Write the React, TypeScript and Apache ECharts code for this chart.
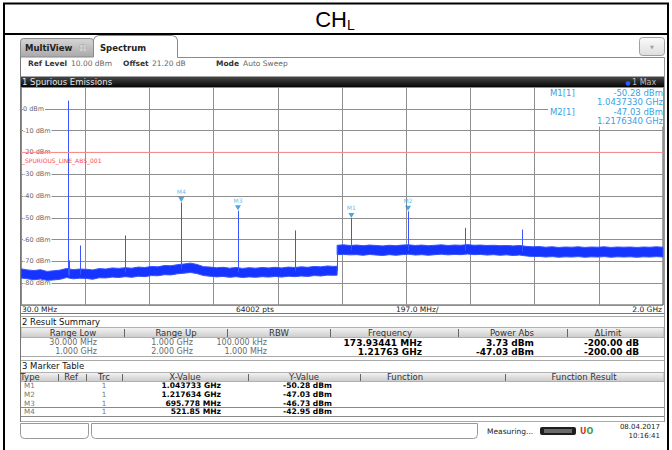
import React, { useEffect, useRef } from "react";
import * as echarts from "echarts";

// ---------- data ----------
const FREQ_MIN = 30; // MHz
const FREQ_MAX = 2000; // MHz
const REF_LEVEL = 10; // dBm
const BOTTOM_LEVEL = -90; // dBm
const LIMIT_LEVEL = -20; // dBm
const X_DIVISIONS = 10;

// noise floor band, 30 MHz .. 1 GHz (sample every 20 MHz, last one at 1000 MHz)
const lowBandStart = 30;
const lowBandStep = 20;
const lowBandEnd = 1000;
const lowBandHi = [
  -73.4, -73.9, -74.2, -73.8, -74.6, -74.3, -74.0, -73.2, -73.8, -73.5,
  -73.6, -73.9, -73.3, -73.5, -73.0, -73.2, -72.9, -73.1, -72.6, -72.8,
  -72.3, -72.5, -71.9, -72.0, -71.5, -71.2, -70.8, -71.4, -72.4, -72.6,
  -72.9, -72.7, -73.1, -72.8, -73.2, -72.9, -73.1, -72.8, -73.0, -72.7,
  -73.0, -72.6, -72.8, -72.5, -72.7, -72.3, -72.5, -72.1, -72.3, -72.2,
];
const lowBandLo = [
  -77.6, -78.0, -78.4, -78.1, -78.7, -78.5, -78.2, -77.4, -78.0, -77.7,
  -77.8, -78.2, -77.5, -77.6, -77.2, -77.4, -77.0, -77.3, -76.8, -77.0,
  -76.5, -76.6, -76.1, -76.2, -75.7, -75.4, -75.1, -75.6, -76.5, -76.8,
  -77.1, -76.9, -77.3, -77.0, -77.4, -77.1, -77.3, -77.0, -77.2, -76.9,
  -77.2, -76.8, -77.0, -76.7, -76.9, -76.5, -76.7, -76.3, -76.4, -76.3,
];
// noise floor band, 1 GHz .. 2 GHz (every 20 MHz)
const highBandStart = 1000;
const highBandStep = 20;
const highBandEnd = 2000;
const highBandHi = [
  -62.6, -62.4, -62.7, -62.5, -62.8, -62.5, -62.7, -62.9, -62.6, -62.8,
  -62.5, -62.4, -62.7, -62.5, -62.8, -62.6, -62.4, -62.7, -62.5, -62.6,
  -62.3, -62.6, -62.5, -62.7, -62.6, -62.8, -62.7, -62.9, -62.7, -63.1,
  -63.3, -63.2, -63.5, -63.3, -63.6, -63.4, -63.5, -63.3, -63.6, -63.4,
  -63.5, -63.3, -63.6, -63.4, -63.5, -63.4, -63.6, -63.4, -63.5, -63.3, -63.5,
];
const highBandLo = [
  -66.9, -66.8, -67.0, -66.9, -67.2, -66.8, -67.1, -67.3, -66.9, -67.2,
  -66.9, -66.7, -67.1, -66.9, -67.2, -66.9, -66.7, -67.0, -66.8, -66.9,
  -66.6, -66.9, -66.8, -67.1, -66.9, -67.2, -67.0, -67.3, -67.1, -67.5,
  -67.8, -67.7, -68.0, -67.8, -68.1, -67.9, -68.0, -67.8, -68.1, -67.9,
  -68.0, -67.8, -68.1, -67.9, -68.0, -67.9, -68.1, -67.9, -68.0, -67.8, -68.0,
];

// spurious spikes on the trace (MHz, peak dBm, foot dBm)
const spikeFreqs = [173.93, 177, 211, 348, 521.85, 695.778, 871, 1000, 1043.733, 1217.634, 1392, 1567];
const spikePeaks = [3.73, -69.5, -62.7, -58.1, -42.95, -46.73, -55.8, -62.6, -50.28, -47.03, -54.6, -55.4];
const spikeFeet = [-76.5, -76.5, -76.0, -75.0, -73.5, -75.0, -74.5, -74.5, -65.0, -65.0, -65.0, -65.5];

// markers
const markerNames = ["M1", "M2", "M3", "M4"];
const markerFreqs = [1043.733, 1217.634, 695.778, 521.85];
const markerLevels = [-50.28, -47.03, -46.73, -42.95];
const markerXText = ["1.043733 GHz", "1.217634 GHz", "695.778 MHz", "521.85 MHz"];
const markerYText = ["-50.28 dBm", "-47.03 dBm", "-46.73 dBm", "-42.95 dBm"];
const markerTrace = ["1", "1", "1", "1"];

// result summary
const summaryHeaders = ["Range Low", "Range Up", "RBW", "Frequency", "Power Abs", "\u0394Limit"];
const summaryRangeLow = ["30.000 MHz", "1.000 GHz"];
const summaryRangeUp = ["1.000 GHz", "2.000 GHz"];
const summaryRbw = ["100.000 kHz", "1.000 MHz"];
const summaryFreq = ["173.93441 MHz", "1.21763 GHz"];
const summaryPower = ["3.73 dBm", "-47.03 dBm"];
const summaryLimit = ["-200.00 dB", "-200.00 dB"];

const markerHeaders = ["Type", "Ref", "Trc", "X-Value", "Y-Value", "Function", "Function Result"];

// ---------- styling helpers ----------
const UI = '"DejaVu Sans", Verdana, sans-serif';
const MARK_BLUE = "#3a9fe4";
const TRACE_BLUE = "#1634ff";

function T(x: number, y: number, text: string, o: any = {}) {
  return {
    type: "text",
    x,
    y,
    z: o.z ?? 20,
    silent: true,
    style: {
      text,
      fill: o.color ?? "#222",
      fontSize: o.size ?? 8,
      fontFamily: o.family ?? UI,
      fontWeight: o.weight ?? "normal",
      align: o.align ?? "left",
      verticalAlign: o.valign ?? "middle",
      lineHeight: o.lh,
    },
  };
}
function L(x1: number, y1: number, x2: number, y2: number, color = "#999", w = 1, z = 20) {
  return { type: "line", z, silent: true, shape: { x1, y1, x2, y2 }, style: { stroke: color, lineWidth: w } };
}
function R(x: number, y: number, w: number, h: number, fill: any, stroke: string | null = null, r: any = 0, z = 15) {
  return {
    type: "rect",
    z,
    silent: true,
    shape: { x, y, width: w, height: h, r },
    style: { fill, stroke: stroke ?? undefined, lineWidth: stroke ? 1 : 0 },
  };
}
function grad(a: string, b: string) {
  return new echarts.graphic.LinearGradient(0, 0, 0, 1, [
    { offset: 0, color: a },
    { offset: 1, color: b },
  ]);
}

function buildGraphic() {
  const g: any[] = [];
  // outer frame
  g.push(L(3, 3.5, 669, 3.5, "#000", 2));
  g.push(L(3, 34, 669, 34, "#000", 2));
  g.push(L(4, 3, 4, 450, "#000", 2));
  g.push(L(668, 3, 668, 450, "#000", 2));
  // title CH_L
  g.push(T(347, 19, "CH", { size: 22, family: '"Liberation Sans", Arial, sans-serif', align: "right", color: "#000" }));
  g.push(T(347, 25, "L", { size: 14, family: '"Liberation Sans", Arial, sans-serif', color: "#000" }));

  // tabs
  g.push(R(20.5, 38.5, 73, 18.5, grad("#d6d6d6", "#a9a9a9"), "#8a8a8a", [3, 3, 0, 0]));
  g.push(T(25, 48, "MultiView", { weight: "bold", size: 8.5, color: "#222" }));
  g.push(R(79.5, 44.5, 7, 7, "#d0d0d0", "#b8b8b8", 1, 16));
  g.push(L(83, 44.5, 83, 51.5, "#b8b8b8", 1, 17));
  g.push(L(79.5, 48, 86.5, 48, "#b8b8b8", 1, 17));
  g.push(R(93.5, 35.5, 84, 22, "#fff", null, [5, 5, 0, 0], 15));
  g.push({
    type: "polyline",
    z: 16,
    silent: true,
    shape: {
      points: [
        [93.5, 57],
        [93.5, 40],
        [95, 37],
        [98.5, 35.5],
        [172.5, 35.5],
        [176, 37],
        [177.5, 40],
        [177.5, 57.5],
        [664.5, 57.5],
      ],
    },
    style: { stroke: "#8a8a8a", lineWidth: 1, fill: null },
  });
  g.push(T(100, 47.5, "Spectrum", { weight: "bold", size: 8.5, color: "#222" }));
  // dropdown button
  g.push(R(639.5, 37.5, 25, 18, grad("#fbfbfb", "#dedede"), "#a0a0a0", 3));
  g.push(T(652, 46.5, "\u25BC", { size: 5, color: "#a0a0a0", align: "center" }));

  // ref level line
  g.push(T(28, 63, "Ref Level", { weight: "bold", size: 7.5, color: "#333" }));
  g.push(T(71, 63, "10.00 dBm", { size: 7.5, color: "#666" }));
  g.push(T(123, 63, "Offset", { weight: "bold", size: 7.5, color: "#333" }));
  g.push(T(152, 63, "21.20 dB", { size: 7.5, color: "#666" }));
  g.push(T(216, 63, "Mode", { weight: "bold", size: 7.5, color: "#333" }));
  g.push(T(243, 63, "Auto Sweep", { size: 7.5, color: "#666" }));

  // panel sides
  g.push(L(20.5, 57, 20.5, 422, "#777", 1));
  g.push(L(664.5, 57, 664.5, 422, "#999", 1));

  // window title bar
  g.push(R(20, 76.5, 645, 10.5, grad("#4a4a4a", "#050505"), null, 0));
  g.push(T(22, 82, "1 Spurious Emissions", { size: 8.5, color: "#e6e6e6" }));
  g.push(T(628, 82, "\u25CF", { size: 6, color: "#2e5bff", align: "center" }));
  g.push(T(632, 82, "1 Max", { size: 8, color: "#bdbdbd" }));

  // marker info box inside the diagram
  g.push(R(548, 88, 115, 38.5, "#fff", null, 0, 30));
  g.push(T(550, 93, "M1[1]", { size: 8.5, color: MARK_BLUE, z: 31, lh: 9 }));
  g.push(T(663, 93, "-50.28 dBm", { size: 8.5, color: MARK_BLUE, align: "right", z: 31, lh: 9 }));
  g.push(T(663, 102, "1.0437330 GHz", { size: 8.5, color: MARK_BLUE, align: "right", z: 31, lh: 9 }));
  g.push(T(550, 112, "M2[1]", { size: 8.5, color: MARK_BLUE, z: 31, lh: 9 }));
  g.push(T(663, 112, "-47.03 dBm", { size: 8.5, color: MARK_BLUE, align: "right", z: 31, lh: 9 }));
  g.push(T(663, 121, "1.2176340 GHz", { size: 8.5, color: MARK_BLUE, align: "right", z: 31, lh: 9 }));

  // limit line name
  g.push(T(22, 160, "_SPURIOUS_LINE_ABS_001", { size: 6, color: "#ff4a4a", z: 31, lh: 6 }));

  // footer of the diagram
  g.push(T(22, 309, "30.0 MHz", { size: 7.5, color: "#222" }));
  g.push(T(236, 309, "64002 pts", { size: 7.5, color: "#222" }));
  g.push(T(396, 309, "197.0 MHz/", { size: 7.5, color: "#222" }));
  g.push(T(662, 309, "2.0 GHz", { size: 7.5, color: "#222", align: "right" }));
  g.push(L(20.5, 313.5, 664.5, 313.5, "#777", 1));

  // result summary
  g.push(R(20.5, 316.5, 644, 40, "#fff", "#aaa", 0, 12));
  g.push(T(22, 322, "2 Result Summary", { size: 8.5, color: "#111" }));
  g.push(R(21, 327.5, 643, 10, grad("#f4f4f4", "#cbcbcb"), "#b0b0b0", 0, 14));
  [124, 227, 330, 458, 567].forEach((x) => g.push(L(x + 0.5, 329, x + 0.5, 337, "#666", 1)));
  const sumCenters = [73, 176, 279, 390, 512, 608];
  summaryHeaders.forEach((h, i) => g.push(T(sumCenters[i], 332.5, h, { size: 8.5, color: "#333", align: "center" })));
  const sumRows = [342.5, 351.5];
  sumRows.forEach((y, r) => {
    g.push(T(97, y, summaryRangeLow[r], { size: 8, color: "#6a6a6a", align: "right", lh: 9 }));
    g.push(T(193, y, summaryRangeUp[r], { size: 8, color: "#6a6a6a", align: "right", lh: 9 }));
    g.push(T(267, y, summaryRbw[r], { size: 8, color: "#6a6a6a", align: "right", lh: 9 }));
    g.push(T(422, y, summaryFreq[r], { size: 9, weight: "bold", color: "#000", align: "right", lh: 9 }));
    g.push(T(534, y, summaryPower[r], { size: 9, weight: "bold", color: "#000", align: "right", lh: 9 }));
    g.push(T(639, y, summaryLimit[r], { size: 9, weight: "bold", color: "#000", align: "right", lh: 9 }));
  });

  // marker table
  g.push(R(20.5, 360.5, 644, 61, "#fff", "#aaa", 0, 12));
  g.push(T(22, 366, "3 Marker Table", { size: 8.5, color: "#111" }));
  g.push(R(21, 372.5, 643, 9, grad("#f4f4f4", "#cbcbcb"), "#b0b0b0", 0, 14));
  [58, 86, 122, 248, 360, 505].forEach((x) => g.push(L(x + 0.5, 374, x + 0.5, 381, "#666", 1)));
  const mkCenters = [30, 71, 104, 185, 304, 405, 584];
  markerHeaders.forEach((h, i) => g.push(T(mkCenters[i], 377, h, { size: 8.5, color: "#333", align: "center", lh: 9 })));
  const mkRows = [385.8, 394.4, 403, 411.8];
  mkRows.forEach((y, r) => {
    g.push(T(24, y, markerNames[r], { size: 7.2, color: "#777", lh: 8 }));
    g.push(T(104, y, markerTrace[r], { size: 7.2, color: "#777", align: "center", lh: 8 }));
    g.push(T(221, y, markerXText[r], { size: 7.6, weight: "bold", color: "#000", align: "right", lh: 8 }));
    g.push(T(332, y, markerYText[r], { size: 7.6, weight: "bold", color: "#000", align: "right", lh: 8 }));
  });
  g.push(L(21, 407.5, 664, 407.5, "#888", 1));
  g.push(L(21, 416.5, 664, 416.5, "#888", 1));

  // status bar
  g.push(R(20.5, 423.5, 68, 15, "#fff", "#999", [0, 0, 4, 4], 12));
  g.push(R(91.5, 423.5, 386, 15, "#fff", "#999", [0, 0, 4, 4], 12));
  g.push(T(487, 431, "Measuring...", { size: 7.5, color: "#222" }));
  g.push(R(540, 427, 36, 8, "#1e1e1e", null, 2, 14));
  g.push(R(544, 429, 28, 4, "#6a6a6a", null, 0, 15));
  g.push({
    type: "text",
    x: 580,
    y: 431,
    z: 20,
    silent: true,
    style: {
      text: "{r|U}{g|O}",
      verticalAlign: "middle",
      rich: {
        r: { fill: "#d23b2b", fontSize: 8, fontWeight: "bold", fontFamily: UI },
        g: { fill: "#3c9a3c", fontSize: 8, fontWeight: "bold", fontFamily: UI },
      },
    },
  });
  g.push(T(660, 427, "08.04.2017", { size: 7, color: "#222", align: "right", lh: 8 }));
  g.push(T(660, 435.5, "10:16:41", { size: 7, color: "#222", align: "right", lh: 8 }));
  return g;
}

function bandPoints(start: number, step: number, end: number, n: number) {
  const f: number[] = [];
  for (let i = 0; i < n; i++) f.push(Math.min(start + step * i, end));
  return f;
}

export default function App() {
  const ref = useRef<HTMLDivElement>(null);
  useEffect(() => {
    if (!ref.current) return;
    const chart = echarts.init(ref.current, undefined, { renderer: "svg" });

    const bands = [
      { f: bandPoints(lowBandStart, lowBandStep, lowBandEnd, lowBandHi.length), hi: lowBandHi, lo: lowBandLo },
      { f: bandPoints(highBandStart, highBandStep, highBandEnd, highBandHi.length), hi: highBandHi, lo: highBandLo },
    ];

    const option: any = {
      animation: false,
      backgroundColor: "#fff",
      grid: {
        left: 21,
        top: 87,
        width: 642,
        height: 218,
        show: true,
        backgroundColor: "#fff",
        borderColor: "#4a4a4a",
        borderWidth: 1,
      },
      xAxis: [
        {
          type: "value",
          min: FREQ_MIN,
          max: FREQ_MAX,
          axisLine: { show: false },
          axisTick: { show: false },
          axisLabel: { show: false },
          splitLine: { show: false },
        },
        {
          type: "value",
          min: 0,
          max: X_DIVISIONS,
          interval: 1,
          position: "bottom",
          axisLine: { show: false },
          axisTick: { show: false },
          axisLabel: { show: false },
          splitLine: { show: true, lineStyle: { color: "#8e8e8e", width: 1 } },
        },
      ],
      yAxis: {
        type: "value",
        min: BOTTOM_LEVEL,
        max: REF_LEVEL,
        interval: 10,
        axisLine: { show: false },
        axisTick: { show: false },
        splitLine: { show: true, lineStyle: { color: "#8e8e8e", width: 1 } },
        axisLabel: {
          inside: true,
          margin: 2,
          showMinLabel: false,
          showMaxLabel: false,
          formatter: (v: number) => `${v} dBm`,
          color: "#6a6a6a",
          fontSize: 6.5,
          fontFamily: UI,
          backgroundColor: "#fff",
          padding: [0, 1, 0, 0],
        },
      },
      series: [
        {
          type: "custom",
          xAxisIndex: 0,
          yAxisIndex: 0,
          silent: true,
          z: 3,
          data: [
            [lowBandStart, lowBandHi[0]],
            [highBandStart, highBandHi[0]],
          ],
          renderItem: (params: any, api: any) => {
            const b = bands[params.dataIndex];
            const top = b.f.map((f, i) => api.coord([f, b.hi[i]]));
            const bot = b.f.map((f, i) => api.coord([f, b.lo[i]])).reverse();
            return {
              type: "polygon",
              shape: { points: top.concat(bot) },
              style: { fill: TRACE_BLUE, stroke: "#3552ff", lineWidth: 1 },
            };
          },
        },
        {
          type: "custom",
          xAxisIndex: 0,
          yAxisIndex: 0,
          silent: true,
          z: 4,
          data: spikeFreqs.map((f, i) => [f, spikePeaks[i], spikeFeet[i]]),
          encode: { x: 0, y: [1, 2] },
          renderItem: (params: any, api: any) => {
            const p = api.coord([api.value(0), api.value(1)]);
            const q = api.coord([api.value(0), api.value(2)]);
            const x = Math.round(p[0]) + 0.5;
            return {
              type: "line",
              shape: { x1: x, y1: p[1], x2: x, y2: q[1] },
              style: { stroke: "#3a55ff", lineWidth: 1 },
            };
          },
        },
        {
          type: "line",
          xAxisIndex: 0,
          yAxisIndex: 0,
          silent: true,
          z: 5,
          symbol: "none",
          data: [
            [FREQ_MIN, LIMIT_LEVEL],
            [FREQ_MAX, LIMIT_LEVEL],
          ],
          lineStyle: { color: "#ff8f8f", width: 1 },
        },
        {
          type: "scatter",
          xAxisIndex: 0,
          yAxisIndex: 0,
          silent: true,
          z: 6,
          symbol: "triangle",
          symbolRotate: 180,
          symbolSize: [6, 5],
          symbolOffset: [0, -3],
          itemStyle: { color: "#1f8fdc" },
          data: markerFreqs.map((f, i) => ({ name: markerNames[i], value: [f, markerLevels[i]] })),
          label: {
            show: true,
            position: "top",
            distance: 2,
            formatter: "{b}",
            color: "#47a9ea",
            fontSize: 6,
            fontFamily: UI,
          },
        },
      ],
      graphic: buildGraphic(),
    };
    chart.setOption(option);
    return () => chart.dispose();
  }, []);
  return (
    <div
      ref={ref}
      style={{ position: "absolute", left: 0, top: 0, width: 672, height: 450, background: "#fff" }}
    />
  );
}
